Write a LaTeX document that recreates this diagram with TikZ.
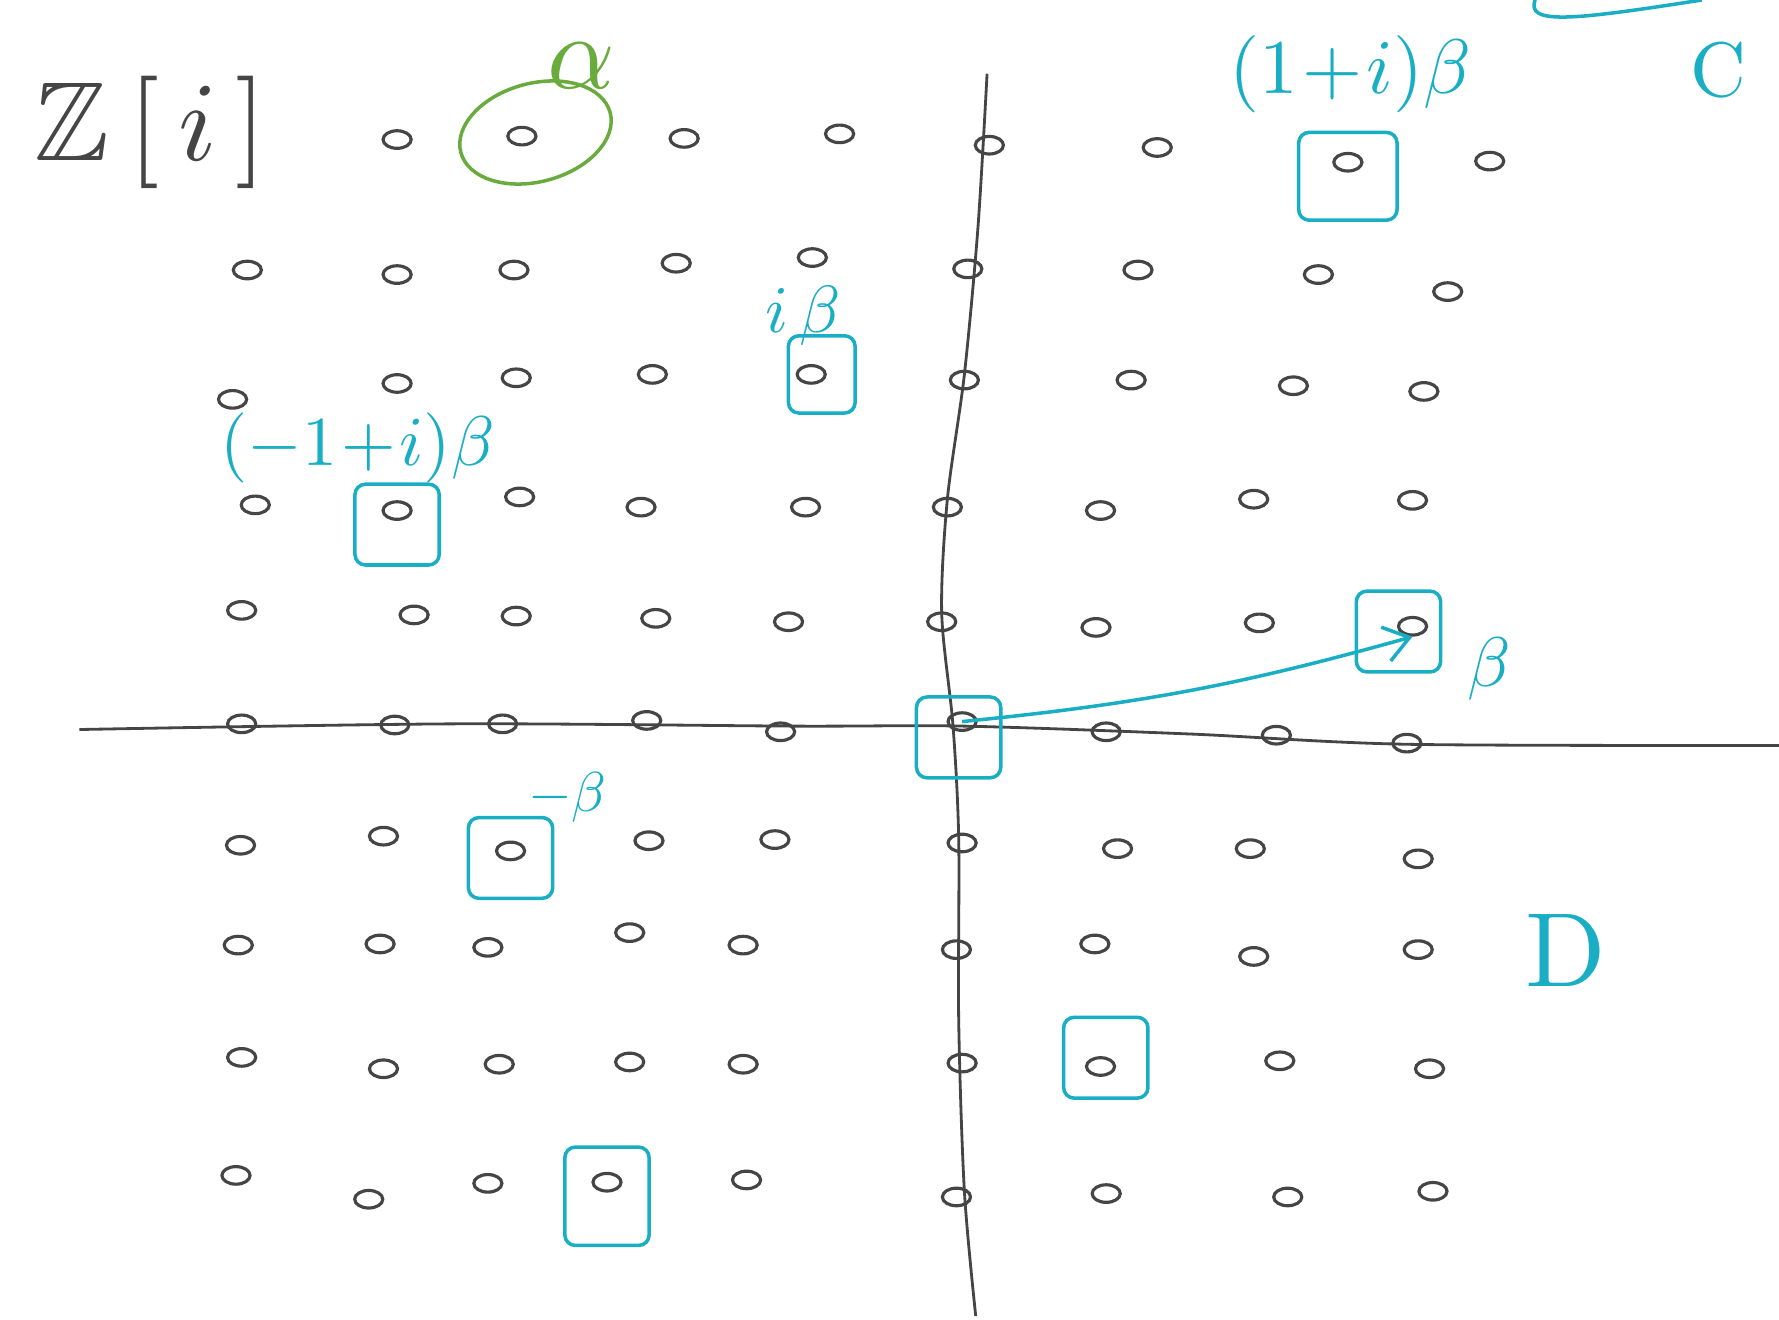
\documentclass[tikz,border=0pt]{standalone}
\usepackage{amsmath, amssymb}
\usepackage{tikz}
\usetikzlibrary{arrows.meta, shapes.geometric}

\definecolor{ink}{HTML}{454545}
\definecolor{penblue}{HTML}{1AAEC4}
\definecolor{pengreen}{HTML}{6AAB3E}

\begin{document}
\begin{tikzpicture}[
  x=0.011346cm, y=-0.011346cm,
  dot/.style={ellipse, draw=ink, line width=0.9pt, inner sep=0pt, minimum width=8pt, minimum height=5pt},
  hl/.style={draw=penblue, line width=1pt, minimum width=24pt, minimum height=23pt, rounded corners=3pt},
  lbl/.style={text=penblue, inner sep=0pt},
  axis/.style={draw=ink, line width=0.8pt},
  vec/.style={-{Straight Barb[length=7pt, width=10pt]}, draw=penblue, line width=1pt}
]
\useasboundingbox (0,0) rectangle (1568,1163);

\draw[axis] plot[smooth] coordinates {(70,643) (400,638) (700,640) (850,640) (1050,647) (1240,656) (1568,657)};
\draw[axis] plot[smooth] coordinates {(870,65) (862,200) (850,330) (835,440) (830,540) (840,640) (845,740) (845,900) (850,1050) (860,1160)};

% lattice, one row at a time
\foreach \c/\x/\y in {-4/350/123, -3/460/120, -2/603/122, -1/740/118, 0/872/128, 1/1020/130, 2/1188/143, 3/1313/142}
  \node[dot] (p\c_5) at (\x,\y) {};
\foreach \c/\x/\y in {-5/218/238, -4/350/242, -3/453/238, -2/596/232, -1/716/227, 0/853/237, 1/1003/238, 2/1162/242, 3/1276/257}
  \node[dot] (p\c_4) at (\x,\y) {};
\foreach \c/\x/\y in {-5/205/352, -4/350/338, -3/455/333, -2/575/330, -1/715/330, 0/850/335, 1/997/335, 2/1140/340, 3/1255/345}
  \node[dot] (p\c_3) at (\x,\y) {};
\foreach \c/\x/\y in {-5/225/445, -4/350/450, -3/458/438, -2/565/447, -1/710/447, 0/835/447, 1/970/450, 2/1105/440, 3/1245/441}
  \node[dot] (p\c_2) at (\x,\y) {};
\foreach \c/\x/\y in {-5/213/538, -4/365/542, -3/455/543, -2/578/545, -1/695/548, 0/830/548, 1/966/553, 2/1110/549, 3/1245/552}
  \node[dot] (p\c_1) at (\x,\y) {};
\foreach \c/\x/\y in {-5/213/638, -4/348/639, -3/443/638, -2/570/635, -1/688/645, 0/848/636, 1/975/645, 2/1125/648, 3/1240/655}
  \node[dot] (p\c_0) at (\x,\y) {};
\foreach \c/\x/\y in {-5/212/745, -4/338/737, -3/450/750, -2/572/741, -1/683/740, 0/848/743, 1/985/748, 2/1102/748, 3/1250/757}
  \node[dot] (p\c_-1) at (\x,\y) {};
\foreach \c/\x/\y in {-5/210/833, -4/335/832, -3/430/835, -2/555/822, -1/655/833, 0/843/837, 1/965/832, 2/1105/843, 3/1250/837}
  \node[dot] (p\c_-2) at (\x,\y) {};
\foreach \c/\x/\y in {-5/213/932, -4/338/942, -3/440/938, -2/555/936, -1/655/938, 0/848/937, 1/970/940, 2/1128/935, 3/1260/942}
  \node[dot] (p\c_-3) at (\x,\y) {};
\foreach \c/\x/\y in {-5/208/1036, -4/325/1057, -3/430/1043, -2/535/1042, -1/658/1040, 0/843/1055, 1/975/1052, 2/1135/1055, 3/1263/1050}
  \node[dot] (p\c_-4) at (\x,\y) {};

% boxed multiples of beta
\node[hl, xshift=-1pt, yshift=-4.5pt] (bzero) at (p0_0) {};
\node[hl, xshift=-4pt, yshift=-1.5pt] (bbeta) at (p3_1) {};
\node[hl, minimum width=28pt, minimum height=25pt, yshift=-4pt] (bonei) at (p2_5) {};
\node[hl, minimum width=19pt, minimum height=22pt, xshift=3pt] (bibeta) at (p-1_3) {};
\node[hl, yshift=-4pt] (bmonei) at (p-4_2) {};
\node[hl, yshift=-2pt] (bmbeta) at (p-3_-1) {};
\node[hl, xshift=1.5pt, yshift=2.5pt] (bmibeta) at (p1_-3) {};
\node[hl, minimum height=28pt, yshift=-4pt] (bmonemi) at (p-2_-4) {};

\draw[vec] (p0_0.center) to[bend right=5] (p3_1.south);

\node[ellipse, draw=pengreen, line width=1pt, minimum width=44pt, minimum height=28pt, rotate=15, xshift=4pt] (ring) at (p-3_5) {};
\node[text=pengreen, inner sep=0pt, scale=3] (alpha) at (512,58) {$\alpha$};

\node[text=ink, inner sep=0pt, scale=3.2] (title) at (133,117) {$\mathbb{Z}\,[\,i\,]$};
\node[lbl, scale=2.2] (lonei) at (1190,65) {$(1\!+\!i)\beta$};
\node[lbl, scale=1.9] (libeta) at (708,278) {$i\,\beta$};
\node[lbl, scale=2] (lmonei) at (315,395) {$(-1\!+\!i)\beta$};
\node[lbl, scale=1.6] (lmbeta) at (500,703) {$-\beta$};
\node[lbl, scale=2] (lbeta) at (1313,590) {$\beta$};
\node[lbl, scale=3] (ldisk) at (1380,838) {D};
\node[lbl, scale=2.2] (lplane) at (1515,62) {C};
\draw[penblue, line width=1pt] (1353,0) .. controls (1345,22) and (1385,18) .. (1500,0);
\end{tikzpicture}
\end{document}
